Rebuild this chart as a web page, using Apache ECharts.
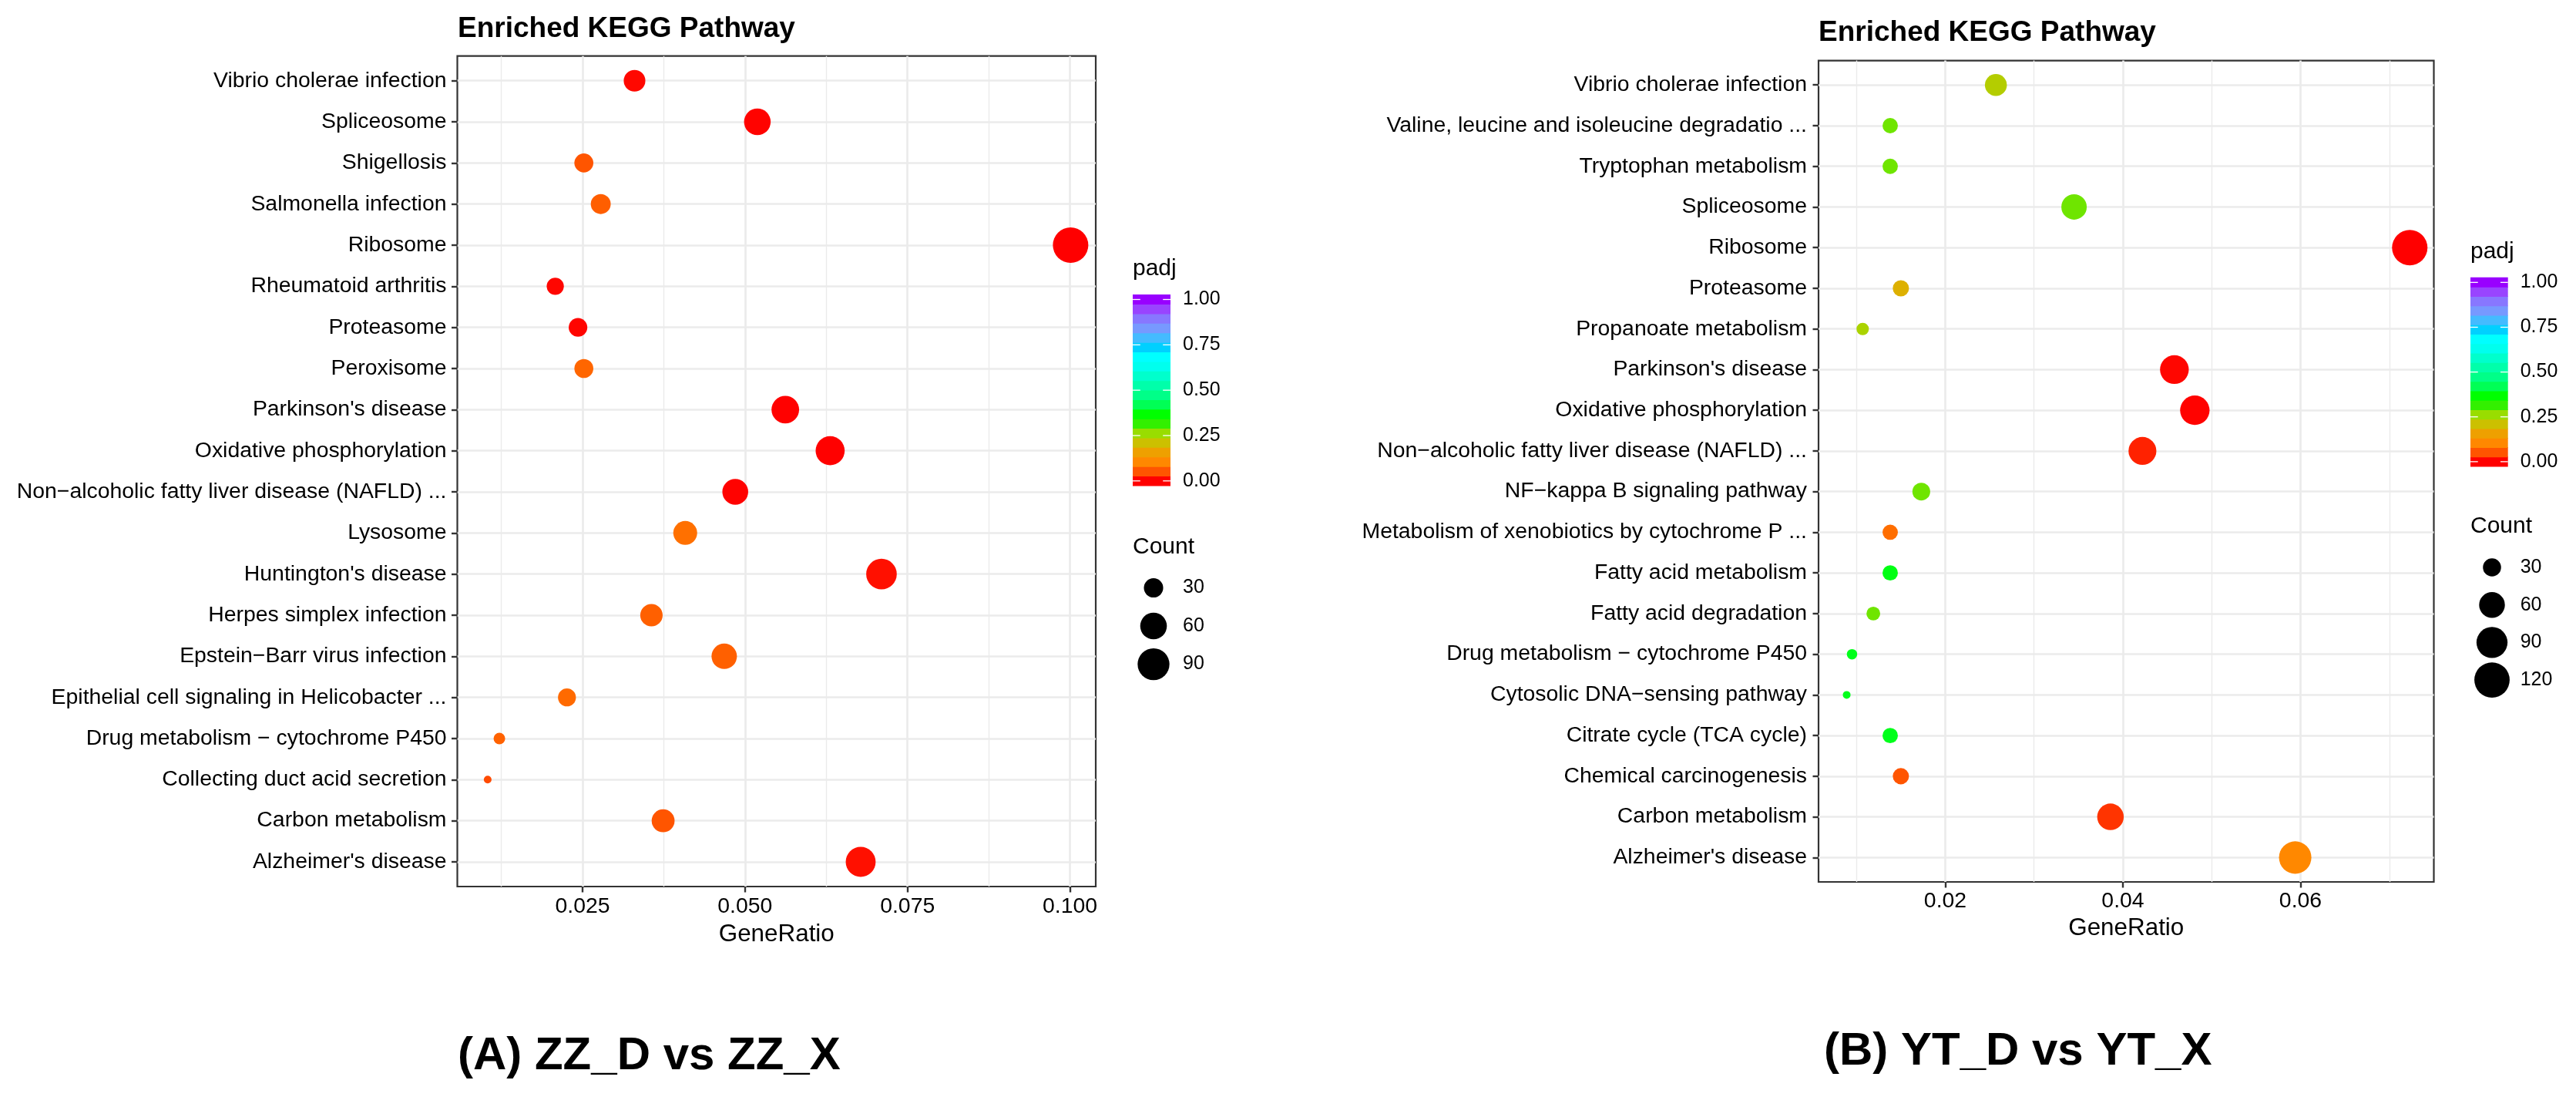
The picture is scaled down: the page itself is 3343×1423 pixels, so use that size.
<!DOCTYPE html>
<html><head><meta charset="utf-8">
<script src="https://cdn.jsdelivr.net/npm/echarts@6/dist/echarts.min.js"></script>
<style>html,body{margin:0;padding:0;background:#fff}#c{width:3343px;height:1423px}</style>
</head><body><div id="c"></div><script>
// ---------- data (listed bottom -> top, i.e. factor order) ----------
const pathwaysA = ["Alzheimer's disease","Carbon metabolism","Collecting duct acid secretion","Drug metabolism \u2212 cytochrome P450","Epithelial cell signaling in Helicobacter ...","Epstein\u2212Barr virus infection","Herpes simplex infection","Huntington's disease","Lysosome","Non\u2212alcoholic fatty liver disease (NAFLD) ...","Oxidative phosphorylation","Parkinson's disease","Peroxisome","Proteasome","Rheumatoid arthritis","Ribosome","Salmonella infection","Shigellosis","Spliceosome","Vibrio cholerae infection"];
const geneRatioA = [0.0678,0.0374,0.0104,0.0122,0.0226,0.0468,0.0356,0.0710,0.0408,0.0485,0.0631,0.0562,0.0252,0.0243,0.0208,0.1001,0.0278,0.0252,0.0519,0.0330];
const countA = [78,43,12,14,26,54,41,82,47,56,73,65,29,28,24,115,32,29,60,38];
const padjA = [0.010,0.053,0.046,0.066,0.074,0.064,0.064,0.010,0.080,0.001,0.0005,0.0005,0.070,0.003,0.004,0.0,0.062,0.053,0.002,0.005];

const pathwaysB = ["Alzheimer's disease","Carbon metabolism","Chemical carcinogenesis","Citrate cycle (TCA cycle)","Cytosolic DNA\u2212sensing pathway","Drug metabolism \u2212 cytochrome P450","Fatty acid degradation","Fatty acid metabolism","Metabolism of xenobiotics by cytochrome P ...","NF\u2212kappa B signaling pathway","Non\u2212alcoholic fatty liver disease (NAFLD) ...","Oxidative phosphorylation","Parkinson's disease","Propanoate metabolism","Proteasome","Ribosome","Spliceosome","Tryptophan metabolism","Valine, leucine and isoleucine degradatio ...","Vibrio cholerae infection"];
const geneRatioB = [0.0594,0.0386,0.0150,0.0138,0.0089,0.0095,0.0119,0.0138,0.0138,0.0173,0.0422,0.0481,0.0458,0.0107,0.0150,0.0723,0.0345,0.0138,0.0138,0.0257];
const countB = [99,64,25,23,15,16,20,23,23,29,71,80,76,18,25,121,58,23,23,43];
const padjB = [0.105,0.032,0.053,0.385,0.385,0.385,0.285,0.380,0.078,0.285,0.021,0.002,0.004,0.245,0.184,0.0,0.285,0.285,0.285,0.235];

const xTicksA = [0.025,0.050,0.075,0.100];
const xMinorA = [0.0125,0.0375,0.0625,0.0875];
const xTicksB = [0.02,0.04,0.06];
const xMinorB = [0.01,0.03,0.05,0.07];
const padjTicks = [0,0.25,0.5,0.75,1];
const countBreaksA = [30,60,90];
const countBreaksB = [30,60,90,120];
const padjColors = ['#FF0000','#FF5500','#FF8800','#EEA000','#CCC000','#99DD00','#33F000','#00FF00','#00FF55','#00FF88','#00FFAA','#00FFCC','#00FFEE','#00FFFF','#00D0FF','#44BBFF','#7799FF','#8877FF','#9944FF','#9900FF'];

// ---------- styling helpers ----------
const FONT = "'Liberation Sans', Arial, Helvetica, sans-serif";
const nBins = padjColors.length;
function sizeFn(cmin, cmax){ return c => 10 + 36*Math.sqrt(Math.max(0,(c-cmin))/(cmax-cmin)); }
const sizeA = sizeFn(Math.min(...countA), Math.max(...countA));
const sizeB = sizeFn(Math.min(...countB), Math.max(...countB));

function mainY(names, grid, margin){
  const idx = names.map((_, i) => i);
  return {type:'value', gridIndex:grid, min:-0.6, max:names.length-1+0.6,
    axisLine:{show:false, onZero:false},
    axisTick:{show:true, length:7.5, customValues:idx, lineStyle:{color:'#333', width:2.4}},
    axisLabel:{customValues:idx, formatter:v => names[Math.round(v)], margin:margin, fontSize:28.4, color:'#000', fontFamily:FONT},
    splitLine:{show:true, lineStyle:{color:'#EBEBEB', width:2.7}}};
}
function mainX(grid, min, max, ticks, dec, nameGap, lblMargin){
  return {type:'value', gridIndex:grid, min:min, max:max, position:'bottom', name:'GeneRatio', nameLocation:'middle', nameGap:nameGap,
    nameTextStyle:{fontSize:31.4, color:'#000', fontFamily:FONT},
    axisLine:{show:false, onZero:false},
    axisTick:{show:true, length:7.5, customValues:ticks, lineStyle:{color:'#333', width:2.4}},
    axisLabel:{customValues:ticks, formatter:v => v.toFixed(dec), margin:lblMargin, fontSize:28.4, color:'#000', fontFamily:FONT},
    splitLine:{show:true, lineStyle:{color:'#EBEBEB', width:2.7}}};
}
function minorX(grid, min, max, ticks){
  return {type:'value', gridIndex:grid, min:min, max:max, position:'top',
    axisLine:{show:false, onZero:false}, axisTick:{show:false, customValues:ticks}, axisLabel:{show:false, customValues:ticks},
    splitLine:{show:true, lineStyle:{color:'#EBEBEB', width:1.4}}};
}
function hiddenX(grid){ return {type:'value', gridIndex:grid, min:0, max:1, show:false}; }
function cbY(grid, margin){
  return {type:'value', gridIndex:grid, min:-0.5/(nBins-1), max:1+0.5/(nBins-1), position:'right',
    axisLine:{show:false, onZero:false}, axisTick:{show:false, customValues:padjTicks}, splitLine:{show:false},
    axisLabel:{customValues:padjTicks, formatter:v => v.toFixed(2), margin:margin, fontSize:25, color:'#000', fontFamily:FONT, align:'left'}};
}
function cntY(grid, breaks, margin){
  return {type:'category', gridIndex:grid, data:breaks.map(String), inverse:true, position:'right',
    axisLine:{show:false, onZero:false}, axisTick:{show:false}, splitLine:{show:false},
    axisLabel:{margin:margin, fontSize:25, color:'#000', fontFamily:FONT, align:'left'}};
}
function bandSeries(xi, yi){
  return {type:'custom', xAxisIndex:xi, yAxisIndex:yi, silent:true,
    data: padjColors.map((_, k) => [0.5, k/(nBins-1), k]),
    renderItem:(params, api) => {
      const k = api.value(2);
      const p0 = api.coord([0, (k-0.5)/(nBins-1)]);
      const p1 = api.coord([1, (k+0.5)/(nBins-1)]);
      return {type:'rect', shape:{x:p0[0], y:p1[1]-0.4, width:p1[0]-p0[0], height:p0[1]-p1[1]+0.8}, style:{fill:padjColors[k]}};
    }};
}
function tickSeries(xi, yi){
  return {type:'custom', xAxisIndex:xi, yAxisIndex:yi, silent:true, z:3,
    data: padjTicks.map(v => [0.5, v]),
    renderItem:(params, api) => {
      const v = api.value(1);
      const a = api.coord([0, v]), b = api.coord([1, v]);
      const w = (b[0]-a[0])/5;
      return {type:'group', children:[
        {type:'line', shape:{x1:a[0], y1:a[1], x2:a[0]+w, y2:a[1]}, style:{stroke:'#fff', lineWidth:1.3}},
        {type:'line', shape:{x1:b[0]-w, y1:b[1], x2:b[0], y2:b[1]}, style:{stroke:'#fff', lineWidth:1.3}}]};
    }};
}
function bubbleData(gr, cnt, padj, names){ return names.map((n, i) => [gr[i], i, cnt[i], padj[i], n]); }

const titleStyle = (fs, fw) => ({fontSize:fs, fontWeight:fw, color:'#000', fontFamily:FONT});

const option = {
  animation:false,
  backgroundColor:'#fff',
  textStyle:{fontFamily:FONT},
  title:[
    {text:'Enriched KEGG Pathway', left:594, top:19, padding:0, textStyle:titleStyle(37,'bold')},
    {text:'Enriched KEGG Pathway', left:2360, top:24.5, padding:0, textStyle:titleStyle(37,'bold')},
    {text:'padj', left:1470, top:333.6, padding:0, textStyle:titleStyle(30,'normal')},
    {text:'padj', left:3206, top:311.3, padding:0, textStyle:titleStyle(30,'normal')},
    {text:'Count', left:1470, top:694.6, padding:0, textStyle:titleStyle(30,'normal')},
    {text:'Count', left:3206, top:667.8, padding:0, textStyle:titleStyle(30,'normal')},
    {text:'(A) ZZ_D vs ZZ_X', left:594, top:1340.5, padding:0, textStyle:titleStyle(60,'bold')},
    {text:'(B) YT_D vs YT_X', left:2367, top:1334.3, padding:0, textStyle:titleStyle(60,'bold')}
  ],
  grid:[
    {left:593.5, top:72.7, width:828.5, height:1077.3, show:true, borderColor:'#333', borderWidth:2.2, containLabel:false},
    {left:2360, top:78.6, width:798.5, height:1065.4, show:true, borderColor:'#333', borderWidth:2.2, containLabel:false},
    {left:1470, top:382.3, width:49, height:247.7, containLabel:false},
    {left:3206, top:360.2, width:48.7, height:244.8, containLabel:false},
    {left:1470, top:737.8, width:54, height:148.5, containLabel:false},
    {left:3206, top:711.7, width:56, height:194.7, containLabel:false}
  ],
  xAxis:[
    mainX(0, 0.00573, 0.10397, xTicksA, 3, 47.3, 11.8),
    minorX(0, 0.00573, 0.10397, xMinorA),
    mainX(1, 0.00573, 0.07501, xTicksB, 2, 45.3, 11.4),
    minorX(1, 0.00573, 0.07501, xMinorB),
    hiddenX(2), hiddenX(3), hiddenX(4), hiddenX(5)
  ],
  yAxis:[
    mainY(pathwaysA, 0, 14),
    mainY(pathwaysB, 1, 15),
    cbY(2, 16), cbY(3, 16),
    cntY(4, countBreaksA, 11), cntY(5, countBreaksB, 8.7)
  ],
  visualMap:[
    {type:'continuous', show:false, seriesIndex:0, dimension:3, min:0, max:1, inRange:{color:padjColors}},
    {type:'continuous', show:false, seriesIndex:1, dimension:3, min:0, max:1, inRange:{color:padjColors}}
  ],
  series:[
    {type:'scatter', xAxisIndex:0, yAxisIndex:0, data:bubbleData(geneRatioA, countA, padjA, pathwaysA), symbolSize:v => sizeA(v[2]), itemStyle:{opacity:1}},
    {type:'scatter', xAxisIndex:2, yAxisIndex:1, data:bubbleData(geneRatioB, countB, padjB, pathwaysB), symbolSize:v => sizeB(v[2]), itemStyle:{opacity:1}},
    bandSeries(4, 2), tickSeries(4, 2),
    bandSeries(5, 3), tickSeries(5, 3),
    {type:'scatter', xAxisIndex:6, yAxisIndex:4, data:countBreaksA.map((c, i) => [0.5, i, c]), symbolSize:v => sizeA(v[2]), itemStyle:{color:'#000', opacity:1}},
    {type:'scatter', xAxisIndex:7, yAxisIndex:5, data:countBreaksB.map((c, i) => [0.5, i, c]), symbolSize:v => sizeB(v[2]), itemStyle:{color:'#000', opacity:1}}
  ]
};
const chart = echarts.init(document.getElementById('c'), null, {renderer:'canvas'});
chart.setOption(option);
</script></body></html>
